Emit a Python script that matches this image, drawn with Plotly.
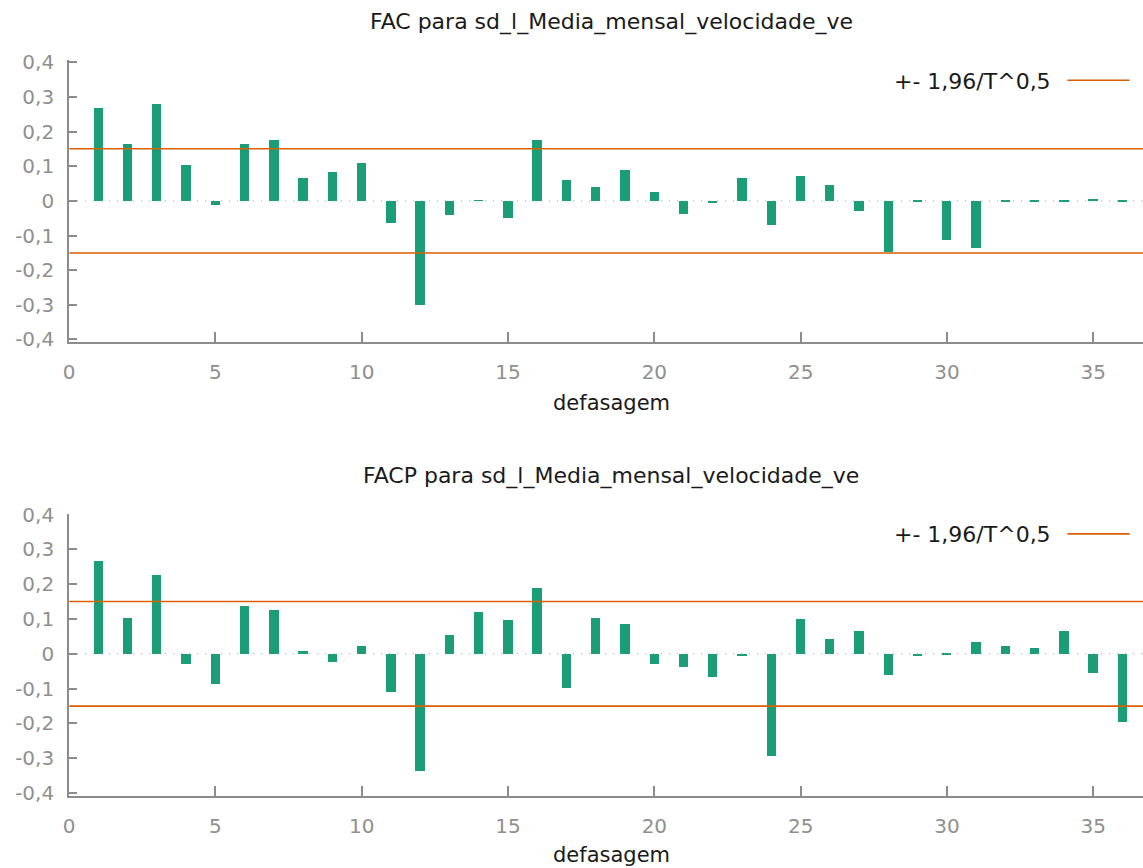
import plotly.graph_objects as go

# ---------------- data ----------------
lags = list(range(1, 37))
fac = [0.267, 0.163, 0.278, 0.103, -0.012, 0.163, 0.176, 0.066, 0.082, 0.108,
       -0.066, -0.301, -0.043, 0.001, -0.051, 0.174, 0.059, 0.038, 0.087, 0.026,
       -0.039, -0.008, 0.065, -0.071, 0.070, 0.044, -0.029, -0.147, -0.002, -0.115,
       -0.137, -0.002, -0.003, -0.003, 0.005, -0.003]
facp = [0.267, 0.103, 0.228, -0.028, -0.088, 0.137, 0.125, 0.008, -0.022, 0.023,
        -0.110, -0.337, 0.054, 0.120, 0.098, 0.190, -0.098, 0.103, 0.087, -0.029,
        -0.038, -0.066, -0.007, -0.294, 0.099, 0.044, 0.066, -0.060, -0.007, -0.002,
        0.033, 0.022, 0.017, 0.066, -0.055, -0.196]
conf_band = 0.1505  # +- 1,96/T^0,5
y_tickvals = [-0.4, -0.3, -0.2, -0.1, 0, 0.1, 0.2, 0.3, 0.4]
y_ticktext = ["-0,4", "-0,3", "-0,2", "-0,1", "0", "0,1", "0,2", "0,3", "0,4"]
x_tickvals = [0, 5, 10, 15, 20, 25, 30, 35]
titles = ["FAC para sd_l_Media_mensal_velocidade_ve",
          "FACP para sd_l_Media_mensal_velocidade_ve"]
xlabel = "defasagem"
legend_label = "+- 1,96/T^0,5"

# ---------------- style ----------------
W, H = 1143, 868
BAR = "#1b9e77"
ORANGE = "#d95f02"
AXIS = "#8c8c8c"
TICKFONT = dict(family="DejaVu Sans", size=20, color="#8f8f8f")
TITLEFONT = dict(family="DejaVu Sans", size=22, color="#1a1a1a")
LABELFONT = dict(family="DejaVu Sans", size=21, color="#1a1a1a")
X_RANGE = [0, 36.7]


def px(p):
    return ((p - 6.5) / 0.992) / W


def py(p):
    return 1 - ((p - 10.5) / 0.98) / H


fig = go.Figure()

panels = [
    dict(vals=fac, xa="x", ya="y", top=60, bottom=343, yr=[-0.4086, 0.4058],
         title_y=22, xlabel_y=404, leg_y=81),
    dict(vals=facp, xa="x2", ya="y2", top=515, bottom=797.5, yr=[-0.4075, 0.402],
         title_y=477, xlabel_y=857, leg_y=536),
]

annotations = []
shapes = []
for i, p in enumerate(panels):
    fig.add_trace(go.Scatter(x=X_RANGE, y=[0, 0], mode="lines",
                             line=dict(color="#9a9a9a", width=1, dash="1px,7px"),
                             xaxis=p["xa"], yaxis=p["ya"], showlegend=False,
                             hoverinfo="skip"))
    fig.add_trace(go.Bar(x=lags, y=p["vals"], width=0.32,
                         marker=dict(color=BAR, line=dict(width=0)),
                         xaxis=p["xa"], yaxis=p["ya"], showlegend=False))
    for s in (1, -1):
        fig.add_trace(go.Scatter(x=X_RANGE, y=[s * conf_band] * 2, mode="lines",
                                 line=dict(color=ORANGE, width=1.6),
                                 xaxis=p["xa"], yaxis=p["ya"], showlegend=False,
                                 hoverinfo="skip"))
    sfx = "" if i == 0 else "2"
    dom_y = [py(p["bottom"]), py(p["top"])]
    fig.update_layout(**{
        "xaxis" + sfx: dict(domain=[px(69.5), 1], range=X_RANGE, tickvals=x_tickvals,
                            showline=True, linecolor=AXIS, linewidth=2,
                            ticks="inside", ticklen=10, tickcolor=AXIS, tickwidth=2,
                            tickfont=TICKFONT, ticklabelstandoff=11,
                            showgrid=False, zeroline=False,
                            anchor="y" + sfx),
        "yaxis" + sfx: dict(domain=dom_y, range=p["yr"], tickvals=y_tickvals,
                            ticktext=y_ticktext,
                            showline=True, linecolor=AXIS, linewidth=2,
                            ticks="inside", ticklen=8, tickcolor=AXIS, tickwidth=2,
                            tickfont=TICKFONT, ticklabelstandoff=9,
                            showgrid=False, zeroline=False,
                            anchor="x" + sfx),
    })
    annotations.append(dict(text=titles[i], x=px(610), y=py(p["title_y"]),
                            xref="paper", yref="paper", showarrow=False,
                            xanchor="center", yanchor="middle", font=TITLEFONT))
    annotations.append(dict(text=xlabel, x=px(610), y=py(p["xlabel_y"]),
                            xref="paper", yref="paper", showarrow=False,
                            xanchor="center", yanchor="middle", font=LABELFONT))
    annotations.append(dict(text=legend_label, x=px(1051), y=py(p["leg_y"]),
                            xref="paper", yref="paper", showarrow=False,
                            xanchor="right", yanchor="middle", font=TITLEFONT))
    shapes.append(dict(type="line", xref="paper", yref="paper",
                       x0=px(1065), x1=px(1127), y0=py(p["leg_y"] - 1), y1=py(p["leg_y"] - 1),
                       line=dict(color=ORANGE, width=1.6)))

fig.update_layout(autosize=True, margin=dict(l=0, r=0, t=0, b=0, pad=0),
                  plot_bgcolor="white", paper_bgcolor="white",
                  annotations=annotations, shapes=shapes, showlegend=False,
                  bargap=0)

fig.write_html("out.html",
               config={"displayModeBar": False},
               default_width="100vw", default_height="100vh",
               post_script="document.body.style.margin='0';"
                           "document.body.style.overflow='hidden';")
